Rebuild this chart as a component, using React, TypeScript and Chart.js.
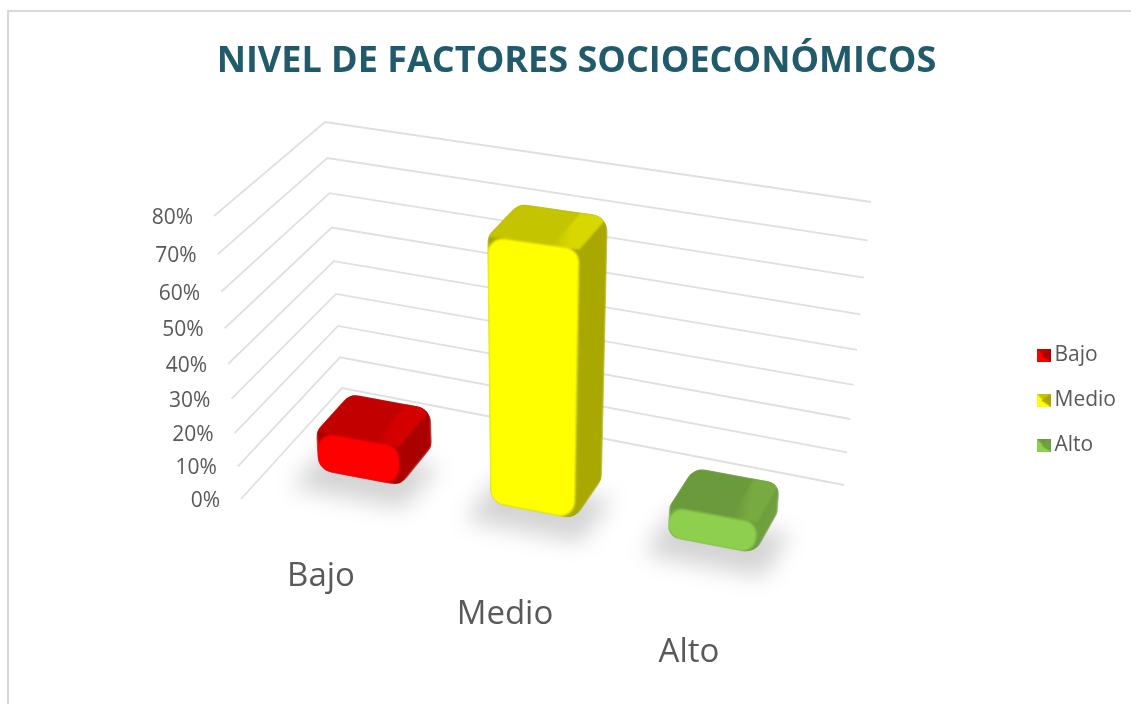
import React, { useEffect, useRef } from "react";
import { Chart, registerables, LinearScale, CategoryScale } from "chart.js";

const categories = ["Bajo", "Medio", "Alto"];
const values = [0.12, 0.75, 0.09];
const frontColors = ["#ff0000", "#ffff00", "#8ed04e"];
const topColors = ["#c20000", "#c4c400", "#6b9a3c"];
const bevelColors = ["#d40000", "#d8d800", "#78aa42"];
const sideColors = ["#aa0000", "#a8a800", "#6f9f3e"];
const yTicksMax = 0.8;
const yTicksStep = 0.1;

const TEXT_GREY = "#595959";
const GRID = "#e0e0e0";
const FONT = "'Open Sans', sans-serif";

// Perspective of the 3D box: corners on the screen (floor, then top of the walls).
type P = [number, number];
const FLOOR = { bl: [342, 388] as P, br: [844, 485] as P, fl: [241, 499] as P, fr: [782, 602] as P };
const CEIL = { bl: [325, 122] as P, br: [871, 202] as P, fl: [214, 216] as P, fr: [808, 295] as P };
const BAR_DEPTH: [number, number] = [0.32, 0.665];
const PERSPECTIVE_W = 1.096;
const PERSPECTIVE_U = 1.05;

const lerp = (a: P, b: P, t: number): P => [a[0] + (b[0] - a[0]) * t, a[1] + (b[1] - a[1]) * t];
function project(uRaw: number, z: number, s: number): P {
  const u = uRaw / (uRaw + PERSPECTIVE_U * (1 - uRaw));
  const f = lerp(lerp(FLOOR.bl, FLOOR.br, u), lerp(FLOOR.fl, FLOOR.fr, u), z);
  const c = lerp(lerp(CEIL.bl, CEIL.br, u), lerp(CEIL.fl, CEIL.fr, u), z);
  return lerp(f, c, s);
}

class PerspectiveScale extends LinearScale {
  static id = "perspective";
  static defaults = LinearScale.defaults;
  getPixelForValue(value: number) {
    const t = (value - this.min) / (this.max - this.min);
    const s = t / (t + (1 - t) * PERSPECTIVE_W);
    return this.bottom - s * (this.bottom - this.top);
  }
  heightOf(value: number) {
    return (this.bottom - this.getPixelForValue(value)) / (this.bottom - this.top);
  }
  drawGrid() {
    const ctx = this.ctx;
    ctx.save();
    ctx.strokeStyle = GRID;
    ctx.lineWidth = 1.8;
    for (const tick of this.ticks) {
      const s = this.heightOf(tick.value);
      const a = project(0, 1, s);
      const b = project(0, 0, s);
      const c = project(1, 0, s);
      ctx.beginPath();
      ctx.moveTo(a[0], a[1]);
      ctx.lineTo(b[0], b[1]);
      ctx.lineTo(c[0], c[1]);
      ctx.stroke();
    }
    ctx.restore();
  }
  _computeLabelItems(area: any) {
    const items = super._computeLabelItems(area);
    items.forEach((item: any, i: number) => {
      const s = this.heightOf(this.ticks[i].value);
      const a = project(0, 1, s);
      item.options.textAlign = "right";
      item.options.textBaseline = "middle";
      item.textOffset = 0;
      item.options.translation = [a[0] - 21, a[1] + 2];
    });
    return items;
  }
}

const LABEL_START: P = [229, 558];
const LABEL_END: P = [781, 672];
class StaggeredCategoryScale extends CategoryScale {
  static id = "staggered";
  static defaults = CategoryScale.defaults;
  _computeLabelItems(area: any) {
    const items = super._computeLabelItems(area);
    items.forEach((item: any, i: number) => {
      const u = (this.getPixelForTick(i) - this.left) / this.width;
      item.options.textAlign = "center";
      item.options.textBaseline = "middle";
      item.textOffset = 0;
      item.options.translation = lerp(LABEL_START, LABEL_END, u);
    });
    return items;
  }
}

function roundedPoly(ctx: CanvasRenderingContext2D, pts: P[], radius: number) {
  const n = pts.length;
  ctx.beginPath();
  for (let i = 0; i < n; i++) {
    const p = pts[i];
    const q = pts[(i + 1) % n];
    const m: P = [(p[0] + q[0]) / 2, (p[1] + q[1]) / 2];
    if (i === 0) ctx.moveTo(m[0], m[1]);
    const nx = pts[(i + 1) % n];
    const nn = pts[(i + 2) % n];
    const m2: P = [(nx[0] + nn[0]) / 2, (nx[1] + nn[1]) / 2];
    const l1 = Math.hypot(nx[0] - p[0], nx[1] - p[1]);
    const l2 = Math.hypot(nn[0] - nx[0], nn[1] - nx[1]);
    ctx.arcTo(nx[0], nx[1], m2[0], m2[1], Math.min(radius, l1 / 2.2, l2 / 2.2));
  }
  ctx.closePath();
}

const poly = (ctx: CanvasRenderingContext2D, pts: P[], fill: any) => {
  ctx.beginPath();
  pts.forEach((p, i) => (i ? ctx.lineTo(p[0], p[1]) : ctx.moveTo(p[0], p[1])));
  ctx.closePath();
  ctx.fillStyle = fill;
  ctx.fill();
};

const bar3d = {
  id: "bar3d",
  beforeDatasetDraw(chart: any, args: any) {
    const ctx: CanvasRenderingContext2D = chart.ctx;
    const yScale = chart.scales.y;
    const area = chart.chartArea;
    const span = yScale.bottom - yScale.top;
    const [zb, zf] = BAR_DEPTH;
    const boxes = args.meta.data.map((el: any) => {
      const p = el.getProps(["x", "y", "width"], true);
      const u0 = (p.x - p.width / 2 - area.left) / area.width;
      const u1 = (p.x + p.width / 2 - area.left) / area.width;
      const s = (yScale.bottom - p.y) / span;
      return { u0, u1, s };
    });
    // floor shadows
    boxes.forEach(({ u0, u1 }: any) => {
      ctx.save();
      ctx.filter = "blur(11px)";
      poly(ctx, [project(u0 - 0.02, zb + 0.14, 0), project(u1 + 0.04, zb + 0.14, 0), project(u1 + 0.035, zf + 0.17, 0), project(u0 - 0.02, zf + 0.17, 0)], "rgba(0,0,0,0.17)");
      ctx.restore();
    });
    boxes.forEach(({ u0, u1, s }: any, i: number) => {
      const fbl = project(u0, zf, 0), fbr = project(u1, zf, 0), ftl = project(u0, zf, s), ftr = project(u1, zf, s);
      const bbr = project(u1, zb, 0), btl = project(u0, zb, s), btr = project(u1, zb, s);
      ctx.save();
      roundedPoly(ctx, [fbl, ftl, btl, btr, bbr, fbr], 18);
      ctx.clip();
      ctx.filter = "blur(1.2px)";
      poly(ctx, [fbl, ftl, btl, btr, bbr, fbr], sideColors[i]);
      poly(ctx, [ftl, btl, btr, ftr], topColors[i]);
      const a = lerp(ftl, ftr, 0.72), b = lerp(ftl, ftr, 0.9);
      const g = ctx.createLinearGradient(a[0], a[1], b[0], b[1]);
      g.addColorStop(0, topColors[i]);
      g.addColorStop(1, bevelColors[i]);
      poly(ctx, [lerp(ftl, ftr, 0.7), lerp(btl, btr, 0.7), btr, ftr], g);
      roundedPoly(ctx, [fbl, ftl, ftr, fbr], 15);
      ctx.fillStyle = frontColors[i];
      ctx.fill();
      ctx.restore();
    });
    return false;
  },
};

const frame = {
  id: "frame",
  beforeDraw(chart: any) {
    const ctx = chart.ctx;
    ctx.save();
    ctx.strokeStyle = "#d9d9d9";
    ctx.lineWidth = 2;
    ctx.strokeRect(8, 11, 1140, 720);
    ctx.restore();
  },
};

const placeLegend = {
  id: "placeLegend",
  afterLayout(chart: any) {
    const l = chart.legend;
    const h = l.bottom - l.top;
    l.top = 400 - h / 2;
    l.bottom = 400 + h / 2;
    const w = l.right - l.left;
    l.left = 1019;
    l.right = l.left + w;
  },
};

function swatch(front: string, top: string, side: string) {
  const c = document.createElement("canvas");
  c.width = 14;
  c.height = 13;
  const x = c.getContext("2d")!;
  x.fillStyle = front;
  x.fillRect(0, 0, 14, 13);
  x.fillStyle = top;
  x.beginPath();
  x.moveTo(0, 0);
  x.lineTo(14, 0);
  x.lineTo(7, 7);
  x.closePath();
  x.fill();
  x.fillStyle = side;
  x.beginPath();
  x.moveTo(14, 0);
  x.lineTo(14, 13);
  x.lineTo(5, 7);
  x.closePath();
  x.fill();
  return c;
}

export default function App() {
  const ref = useRef<HTMLCanvasElement>(null);
  useEffect(() => {
    Chart.register(...registerables, PerspectiveScale, StaggeredCategoryScale);
    const chart = new Chart(ref.current!, {
      type: "bar",
      data: {
        labels: categories,
        datasets: [{ data: values, backgroundColor: frontColors, barPercentage: 0.96, categoryPercentage: 0.5 }],
      },
      plugins: [frame, bar3d, placeLegend],
      options: {
        animation: false,
        responsive: false,
        layout: { padding: { left: 22, right: 0, top: 0, bottom: 0 } },
        scales: {
          x: {
            type: "staggered",
            position: "bottom",
            grid: { display: false },
            border: { display: false },
            ticks: { color: TEXT_GREY, font: { family: FONT, size: 33 }, maxRotation: 0, autoSkip: false },
            afterFit: (s: any) => { s.height = 204; },
          },
          y: {
            type: "perspective",
            position: "left",
            min: 0,
            max: yTicksMax,
            border: { display: false },
            ticks: {
              stepSize: yTicksStep,
              color: TEXT_GREY,
              font: { family: FONT, size: 21 },
              callback: (v: any) => `${Math.round(Number(v) * 100)}%`,
            },
            afterFit: (s: any) => { s.width = 200; },
          },
        },
        plugins: {
          tooltip: { enabled: false },
          title: {
            display: true,
            text: "NIVEL DE FACTORES SOCIOECONÓMICOS",
            color: "#215a6b",
            font: { family: FONT, size: 36, weight: "bold" },
            padding: { top: 40, bottom: 133 },
          },
          legend: {
            position: "right",
            labels: {
              usePointStyle: true,
              boxWidth: 1,
              color: TEXT_GREY,
              font: { family: FONT, size: 21 },
              padding: 24,
              generateLabels: () =>
                categories.map((text, i) => ({
                  text,
                  fontColor: TEXT_GREY,
                  fillStyle: frontColors[i],
                  strokeStyle: frontColors[i],
                  lineWidth: 0,
                  pointStyle: swatch(frontColors[i], topColors[i], sideColors[i]),
                  hidden: false,
                  index: i,
                })),
            },
          },
        },
      },
    } as any);
    return () => chart.destroy();
  }, []);
  return (
    <div style={{ position: "absolute", left: 0, top: 0, width: 1131, height: 704, background: "#fff", overflow: "hidden" }}>
      <canvas ref={ref} width={1131} height={704} style={{ display: "block" }} />
    </div>
  );
}
